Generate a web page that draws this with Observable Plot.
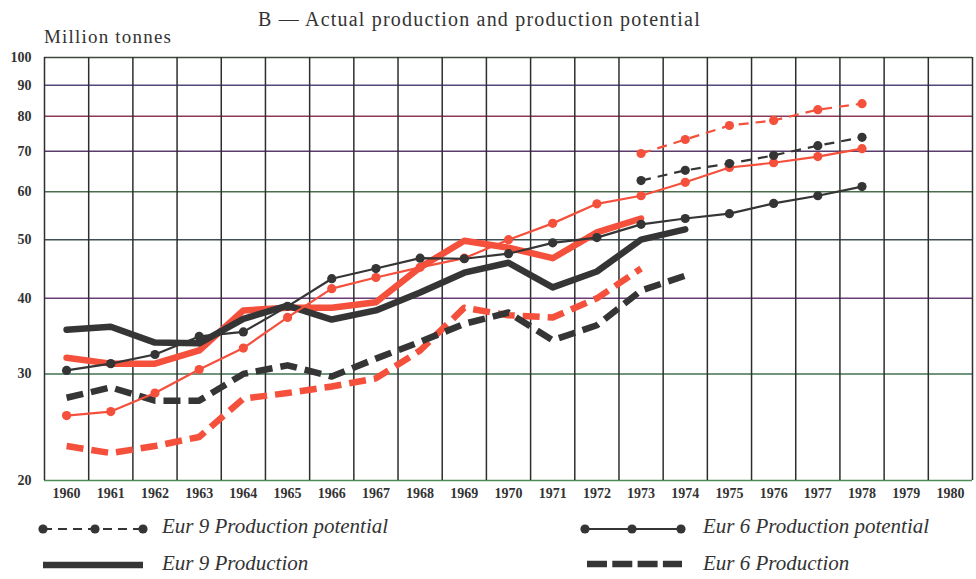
<!DOCTYPE html>
<html><head><meta charset="utf-8">
<script src="https://cdn.jsdelivr.net/npm/d3@7"></script>
<script src="https://cdn.jsdelivr.net/npm/@observablehq/plot@0.6"></script>
<style>
body{margin:0;background:#fff;}
#wrap{position:relative;width:976px;height:579px;font-family:"Liberation Serif","DejaVu Serif","Noto Serif",Tinos,"Times New Roman",Times,Georgia,serif;color:#333;overflow:hidden;}
#chart{position:absolute;left:0;top:0;}
.t{position:absolute;white-space:nowrap;line-height:1;}
#title{left:258px;top:9px;font-size:20px;letter-spacing:1.2px;}
#ylab{left:44px;top:27px;font-size:19px;letter-spacing:1.2px;}
.lg{font-style:italic;font-size:21px;}
#legsvg{position:absolute;left:0;top:505px;}
</style></head>
<body>
<div id="wrap">
  <div id="chart"></div>
  <div class="t" id="title">B — Actual production and production potential</div>
  <div class="t" id="ylab">Million tonnes</div>
  <svg id="legsvg" width="976" height="74"></svg>
  <div class="t lg" style="left:162px;top:516px;">Eur 9 Production potential</div>
  <div class="t lg" style="left:162px;top:553px;">Eur 9 Production</div>
  <div class="t lg" style="left:703px;top:516px;">Eur 6 Production potential</div>
  <div class="t lg" style="left:703px;top:553px;">Eur 6 Production</div>
</div>
<script>
// ---- data ----
const years = [1960,1961,1962,1963,1964,1965,1966,1967,1968,1969,1970,1971,1972,1973,1974,1975,1976,1977,1978];
const yearsProdBlack = [1960,1961,1962,1963,1964,1965,1966,1967,1968,1969,1970,1971,1972,1973,1974];
const yearsProdRed = [1960,1961,1962,1963,1964,1965,1966,1967,1968,1969,1970,1971,1972,1973];
const yearsEur9Pot = [1973,1974,1975,1976,1977,1978];

// black series
const blackEur6Potential = [30.4,31.2,32.3,34.6,35.2,38.8,43.1,44.8,46.6,46.5,47.4,49.4,50.4,53.0,54.2,55.2,57.4,59.1,61.2];
const blackEur9Potential = [62.6,65.1,66.8,68.9,71.5,73.8];
const blackEur9Production = [35.5,35.9,33.8,33.7,37.0,38.9,36.9,38.2,40.9,44.1,45.8,41.7,44.3,50.0,52.0];
const blackEur6Production = [27.4,28.5,27.1,27.1,30.0,31.0,29.7,31.8,33.9,36.3,37.9,34.1,36.1,41.2,43.6];

// red series
const redEur6Potential = [25.6,26.0,27.9,30.5,33.1,37.2,41.5,43.3,45.0,46.6,50.0,53.2,57.3,59.1,62.2,65.8,67.0,68.6,70.7];
const redEur9Potential = [69.4,73.2,77.2,78.7,82.0,83.9];
const redEur9Production = [31.9,31.2,31.2,32.8,38.2,38.6,38.6,39.4,45.0,49.8,48.5,46.6,51.4,54.2];
const redEur6Production = [22.8,22.2,22.8,23.6,27.3,27.9,28.6,29.5,32.8,38.6,37.5,37.2,40.0,44.8];

const yTicks = [20,30,40,50,60,70,80,90,100];
const gridColors = ["#4d8a55","#3f7350","#6a3f78","#3e4e52","#4a6e4c","#5a3d6c","#8c3a58","#52487a","#3f4a3c"];
const xTickYears = d3.range(1960, 1981);
const xBoundaries = d3.range(1959.5, 1981, 1);

const BLACK = "#353535", RED = "#f4503c";
const SERIF = "'Liberation Serif','DejaVu Serif','Noto Serif',Tinos,'Times New Roman',Times,serif";
const rows = (xs, ys) => xs.map((x, i) => ({x, y: ys[i]}));

const thick = (data, color, dashed) => Plot.line(data, {x:"x", y:"y", stroke:color, strokeWidth:6.5,
  strokeLinecap: dashed ? "butt" : "round", strokeLinejoin:"round", strokeDasharray: dashed ? "17,8" : null});
const thin = (data, color, dashed) => [
  Plot.line(data, {x:"x", y:"y", stroke:color, strokeWidth:2.2, strokeLinecap:"butt", strokeDasharray: dashed ? "10,7" : null}),
  Plot.dot(data, {x:"x", y:"y", r:4.6, fill:color, stroke:null})
];

const chart = Plot.plot({
  width: 976, height: 505,
  marginLeft: 44, marginRight: 4, marginTop: 57, marginBottom: 25,
  x: {domain:[1959.5, 1980.5], axis:null},
  y: {type:"log", domain:[20, 100], axis:null},
  style: {background:"transparent", fontFamily:SERIF, overflow:"visible"},
  marks: [
    Plot.ruleY(yTicks, {y:d=>d, stroke:(d,i)=>gridColors[i], strokeWidth:1.5}),
    Plot.ruleX(xBoundaries, {x:d=>d, stroke:"#2e2e2e", strokeWidth:1.5}),
    Plot.text(yTicks, {x:1959.5, y:d=>d, text:d=>String(d), dx:-13, textAnchor:"end", fontSize:14, fontWeight:"bold", fill:"#333"}),
    Plot.text(xTickYears, {x:d=>d, y:20, text:d=>String(d), dy:13, fontSize:14, fontWeight:"bold", fill:"#333"}),
    thick(rows(yearsProdRed, redEur6Production), RED, true),
    thick(rows(yearsProdBlack, blackEur6Production), BLACK, true),
    thick(rows(yearsProdRed, redEur9Production), RED, false),
    thick(rows(yearsProdBlack, blackEur9Production), BLACK, false),
    ...thin(rows(years, redEur6Potential), RED, false),
    ...thin(rows(years, blackEur6Potential), BLACK, false),
    ...thin(rows(yearsEur9Pot, redEur9Potential), RED, true),
    ...thin(rows(yearsEur9Pot, blackEur9Potential), BLACK, true)
  ]
});
document.getElementById("chart").appendChild(chart);

// legend swatches
const lg = d3.select("#legsvg");
const off = 505;
lg.append("line").attr("x1",43).attr("x2",143).attr("y1",529-off).attr("y2",529-off)
  .attr("stroke",BLACK).attr("stroke-width",2.2).attr("stroke-dasharray","9,6");
[43,95,143].forEach(cx=>lg.append("circle").attr("cx",cx).attr("cy",529-off).attr("r",4.6).attr("fill",BLACK));
lg.append("line").attr("x1",43).attr("x2",143).attr("y1",565-off).attr("y2",565-off)
  .attr("stroke",BLACK).attr("stroke-width",6.5);
lg.append("line").attr("x1",585).attr("x2",681).attr("y1",529-off).attr("y2",529-off)
  .attr("stroke",BLACK).attr("stroke-width",2.2);
[585,632,681].forEach(cx=>lg.append("circle").attr("cx",cx).attr("cy",529-off).attr("r",4.6).attr("fill",BLACK));
lg.append("line").attr("x1",587).attr("x2",682).attr("y1",564-off).attr("y2",564-off)
  .attr("stroke",BLACK).attr("stroke-width",6.5).attr("stroke-dasharray","20,5.3");
</script>
</body></html>
